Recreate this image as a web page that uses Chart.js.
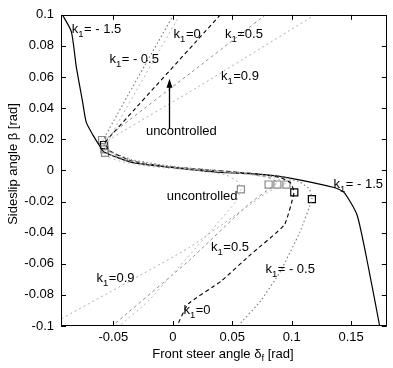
<!DOCTYPE html>
<html><head><meta charset="utf-8">
<script src="https://cdn.jsdelivr.net/npm/chart.js@4/dist/chart.umd.min.js"></script>
<style>html,body{margin:0;padding:0;background:#fff;}#wrap{width:393px;height:368px;}</style>
</head><body><div id="wrap"><canvas id="c" width="393" height="368"></canvas></div>
<script>
// ---- axis ticks ----
const xTicks = [-0.05, 0, 0.05, 0.1, 0.15];
const yTicks = [-0.1, -0.08, -0.06, -0.04, -0.02, 0, 0.02, 0.04, 0.06, 0.08, 0.1];

// ---- series: k1 = -1.5 (solid) ----
const km15X = [-0.0928,-0.0853,-0.0811,-0.076,-0.0728,-0.067,-0.0619,-0.0578,-0.0344,-0.0011,0.038,0.077,0.0964,0.1356,0.144,0.155,0.1647,0.174];
const km15Y = [0.1,0.0892,0.0664,0.0448,0.031,0.0225,0.0162,0.0118,0.0052,0.0019,-0.0012,-0.0027,-0.0046,-0.011,-0.0141,-0.0287,-0.0629,-0.1];
// ---- k1 = 0 (black dashed) ----
const k0X = [0.04,-0.051,-0.057,-0.053,-0.035,-0.01,0.03,0.07,0.09,0.099,0.102,0.0939,0.0656,0.0406,0.013,0.0035];
const k0Y = [0.1,0.0233,0.0175,0.0125,0.0062,0.0028,0.0003,-0.0022,-0.0045,-0.008,-0.0141,-0.035,-0.054,-0.0712,-0.0858,-0.1];
// ---- k1 = -0.5 (grey dotted) ----
const km05X = [0.0006,-0.0585,-0.056,-0.035,0.0,0.05,0.09,0.107,0.115,0.117,0.107,0.0906,0.074,0.0548];
const km05Y = [0.1,0.0195,0.0135,0.007,0.0025,-0.0008,-0.0038,-0.0075,-0.012,-0.0185,-0.0395,-0.0648,-0.0838,-0.1];
// ---- k1 = 0.5 (grey dashed) ----
const k05X = [0.078,0.0214,-0.0536,-0.057,-0.045,-0.02,0.02,0.06,0.08,0.088,0.086,0.0631,0.013,-0.051];
const k05Y = [0.1,0.0664,0.022,0.0145,0.0085,0.004,0.0008,-0.002,-0.0045,-0.0075,-0.0091,-0.0222,-0.0584,-0.1];
// ---- k1 = 0.9 (light dotted) ----
const k09X = [0.1196,0.0214,-0.0536,-0.057,-0.045,-0.02,0.02,0.06,0.085,0.0956,0.093,0.0797,0.013,-0.094];
const k09Y = [0.1,0.0537,0.0195,0.012,0.0075,0.0035,0.0005,-0.0022,-0.0048,-0.0078,-0.0091,-0.0141,-0.05,-0.0955];
// ---- uncontrolled (light dotted) ----
const uncX = [0.006,-0.056,-0.057,-0.045,-0.02,0.02,0.045,0.055,0.0573,0.053,-0.02,-0.045];
const uncY = [0.1,0.017,0.0095,0.006,0.0025,0.0,-0.003,-0.0075,-0.0122,-0.0203,-0.0836,-0.1];
// ---- switching markers (squares) ----
const sqX = [-0.0594,-0.0578,-0.0575,-0.057,0.0573,0.0806,0.088,0.0956,0.1022,0.117];
const sqY = [0.0195,0.0163,0.0135,0.0113,-0.0122,-0.0091,-0.0091,-0.0091,-0.0141,-0.0185];
const sqDark = [0,1,0,0,0,0,0,0,1,1];

// ---- text annotations (data coords) ----
const kLabels = [
  {x:-0.0849, y:0.088, t:'= - 1.5'},
  {x:-0.0533, y:0.069, t:'= - 0.5'},
  {x:0.0007, y:0.0848, t:'=0'},
  {x:0.0439, y:0.0848, t:'=0.5'},
  {x:0.0405, y:0.0582, t:'=0.9'},
  {x:0.1352, y:-0.0114, t:'= - 1.5'},
  {x:0.0322, y:-0.0519, t:'=0.5'},
  {x:0.0779, y:-0.0658, t:'= - 0.5'},
  {x:0.009, y:-0.0924, t:'=0'},
  {x:-0.0641, y:-0.0715, t:'=0.9'}
];
const plainLabels = [
  {x:-0.0226, y:0.0228, t:'uncontrolled'},
  {x:-0.0051, y:-0.019, t:'uncontrolled'}
];
const arrowX = -0.0035, arrowY0 = 0.0266, arrowY1 = 0.0589;

const FONT = '"Liberation Sans", Arial, Helvetica, sans-serif';
const FS = 13, FSUB = 9.5;
const pts = (xs, ys) => xs.map((x, i) => ({x: x, y: ys[i]}));
const fmt = v => Math.abs(v) < 1e-9 ? '0' : String(parseFloat(Number(v).toFixed(3)));

const deco = {
  id: 'deco',
  afterDraw(chart) {
    const ctx = chart.ctx, a = chart.chartArea;
    const xs = chart.scales.x, ys = chart.scales.y;
    ctx.save();
    // frame
    ctx.strokeStyle = '#000'; ctx.lineWidth = 1;
    ctx.strokeRect(Math.round(a.left) + 0.5, Math.round(a.top) + 0.5, Math.round(a.right - a.left) - 1, Math.round(a.bottom - a.top) - 1);
    // inward ticks
    ctx.beginPath();
    xTicks.forEach(v => {
      const p = Math.round(xs.getPixelForValue(v)) + 0.5;
      ctx.moveTo(p, a.bottom); ctx.lineTo(p, a.bottom - 5);
      ctx.moveTo(p, a.top); ctx.lineTo(p, a.top + 5);
    });
    yTicks.forEach(v => {
      const p = Math.round(ys.getPixelForValue(v)) + 0.5;
      ctx.moveTo(a.left, p); ctx.lineTo(a.left + 5, p);
      ctx.moveTo(a.right, p); ctx.lineTo(a.right - 5, p);
    });
    ctx.stroke();
    // k1 labels
    ctx.fillStyle = '#000';
    ctx.textBaseline = 'alphabetic'; ctx.textAlign = 'left';
    kLabels.forEach(l => {
      let px = xs.getPixelForValue(l.x), py = ys.getPixelForValue(l.y);
      ctx.font = FS + 'px ' + FONT; ctx.fillText('k', px, py); px += ctx.measureText('k').width;
      ctx.font = FSUB + 'px ' + FONT; ctx.fillText('1', px, py + 4); px += ctx.measureText('1').width + 0.5;
      ctx.font = FS + 'px ' + FONT; ctx.fillText(l.t, px, py);
    });
    plainLabels.forEach(l => {
      ctx.font = FS + 'px ' + FONT;
      ctx.fillText(l.t, xs.getPixelForValue(l.x), ys.getPixelForValue(l.y));
    });
    // arrow
    const ax = Math.round(xs.getPixelForValue(arrowX)) + 0.5;
    const ay0 = ys.getPixelForValue(arrowY0), ay1 = ys.getPixelForValue(arrowY1);
    ctx.lineWidth = 1.3;
    ctx.beginPath(); ctx.moveTo(ax, ay0); ctx.lineTo(ax, ay1 + 6); ctx.stroke();
    ctx.beginPath(); ctx.moveTo(ax, ay1); ctx.lineTo(ax - 3, ay1 + 9); ctx.lineTo(ax + 3, ay1 + 9); ctx.closePath(); ctx.fill();
    // x title with subscript
    const cx = 223, by = 358;
    ctx.font = FS + 'px ' + FONT;
    const t1 = 'Front steer angle \u03b4', t3 = ' [rad]';
    const w1 = ctx.measureText(t1).width, w3 = ctx.measureText(t3).width;
    ctx.font = FSUB + 'px ' + FONT; const w2 = ctx.measureText('f').width;
    let sx = cx - (w1 + w2 + w3) / 2;
    ctx.font = FS + 'px ' + FONT; ctx.fillText(t1, sx, by); sx += w1;
    ctx.font = FSUB + 'px ' + FONT; ctx.fillText('f', sx, by + 3); sx += w2;
    ctx.font = FS + 'px ' + FONT; ctx.fillText(t3, sx, by);
    // y title
    ctx.translate(16.5, 164); ctx.rotate(-Math.PI / 2);
    ctx.textAlign = 'center';
    ctx.fillText('Sideslip angle \u03b2 [rad]', 0, 0);
    ctx.restore();
  }
};

const lineDs = (label, xs, ys, color, dash, width, tension) => ({
  label: label, data: pts(xs, ys), showLine: true, borderColor: color, borderWidth: width,
  borderDash: dash, pointRadius: 0, tension: tension, fill: false
});

new Chart(document.getElementById('c'), {
  type: 'scatter',
  data: {
    datasets: [
      lineDs('uncontrolled', uncX, uncY, '#b5b5b5', [2, 3], 1, 0.12),
      lineDs('k1=0.9', k09X, k09Y, '#adadad', [2, 3], 1, 0.12),
      lineDs('k1=0.5', k05X, k05Y, '#8f8f8f', [3, 3], 1, 0.12),
      lineDs('k1=-0.5', km05X, km05Y, '#7a7a7a', [1.5, 2.5], 1.1, 0.12),
      lineDs('k1=0', k0X, k0Y, '#000', [4, 3], 1.1, 0.12),
      lineDs('k1=-1.5', km15X, km15Y, '#000', [], 1.2, 0.2),
      {
        label: 'switch', data: pts(sqX, sqY), showLine: false, pointStyle: 'rect', pointRadius: 5,
        pointBackgroundColor: 'rgba(255,255,255,0)',
        pointBorderColor: sqDark.map(d => d ? '#000' : '#8a8a8a'), pointBorderWidth: 1.2
      }
    ]
  },
  options: {
    responsive: false, animation: false, devicePixelRatio: 1,
    layout: {padding: {top: 10, right: 1.5, left: 0, bottom: 0}},
    plugins: {legend: {display: false}, tooltip: {enabled: false}},
    scales: {
      x: {
        type: 'linear', min: -0.094, max: 0.18,
        afterBuildTicks: s => { s.ticks = xTicks.map(v => ({value: v})); },
        afterFit: s => { s.height = 42; },
        ticks: {callback: fmt, color: '#000', font: {family: FONT, size: FS}, padding: 4, maxRotation: 0, autoSkip: false},
        grid: {display: false, drawTicks: false}, border: {display: false}
      },
      y: {
        type: 'linear', min: -0.1, max: 0.1,
        afterBuildTicks: s => { s.ticks = yTicks.map(v => ({value: v})); },
        afterFit: s => { s.width = 61; },
        ticks: {callback: fmt, color: '#000', font: {family: FONT, size: FS}, padding: 7, autoSkip: false},
        grid: {display: false, drawTicks: false}, border: {display: false}
      }
    }
  },
  plugins: [deco]
});
</script></body></html>
